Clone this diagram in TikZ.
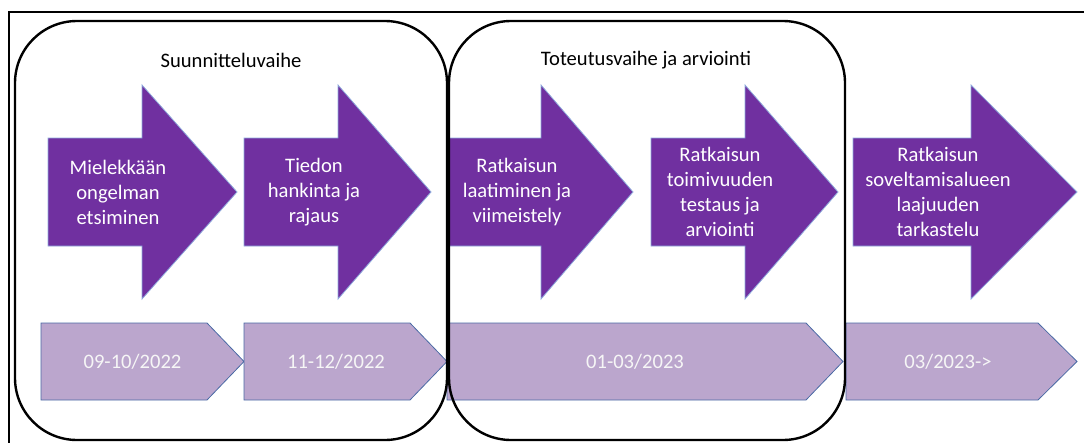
\documentclass[tikz,border=0pt]{standalone}
\usepackage{fontspec}
\setmainfont{Carlito}
\definecolor{arrowpurple}{RGB}{112,48,160}
\definecolor{datepurple}{RGB}{187,166,205}
\definecolor{arrowedge}{RGB}{143,170,220}
\definecolor{dateedge}{RGB}{74,106,165}
\definecolor{datewhite}{RGB}{246,246,246}
\tikzset{
  bigarrow/.style={fill=arrowpurple, draw=arrowedge, line width=0.8pt},
  datebox/.style={fill=datepurple, draw=dateedge, line width=0.8pt},
  phasebox/.style={draw=black, line width=2.4pt, rounded corners=62pt},
  steptext/.style={text=white, align=center, inner sep=0pt, font=\fontsize{20.6}{25}\selectfont},
  datetext/.style={text=datewhite, inner sep=0pt, font=\fontsize{20.6}{25}\selectfont},
  phasetitle/.style={text=black, inner sep=0pt, font=\fontsize{20.6}{25}\selectfont}
}
\begin{document}
\begin{tikzpicture}[x=1pt,y=-1pt]

    \clip (0,0) rectangle (1084,442);
    \draw[line width=1.5pt] (9,12) rectangle (1100,460);

    % step arrows
    \foreach \l/\h/\t in {48/142/237, 244/338/431, 448/541/633, 651/745/838, 853/971/1077}
    \draw[bigarrow] (\l,138) -- (\h,138) -- (\h,85) -- (\t,192) -- (\h,299) -- (\h,246) -- (\l,246) -- cycle;

    % time chevrons
    \foreach \l/\f/\t in {41/207/244, 244/410/447, 447/806/843, 846/1038/1077}
    \draw[datebox] (\l,323) -- (\f,323) -- (\t,361.5) -- (\f,400) -- (\l,400) -- cycle;

    \node[steptext] (etsinta) at (118,192) {Mielekkään\\ongelman\\etsiminen};
    \node[steptext] (hankinta) at (314,192) {Tiedon\\hankinta ja\\rajaus};
    \node[steptext] (laadinta) at (517,192) {Ratkaisun\\laatiminen ja\\viimeistely};
    \node[steptext] (testaus) at (720,192) {Ratkaisun\\toimivuuden\\testaus ja\\arviointi};
    \node[steptext] (tarkastelu) at (938,192) {Ratkaisun\\soveltamisalueen\\laajuuden\\tarkastelu};

    \node[datetext] (syksy) at (132.5,362) {09-10/2022};
    \node[datetext] (talvi) at (336,362) {11-12/2022};
    \node[datetext] (kevat) at (635,362) {01-03/2023};
    \node[datetext] (jatko) at (948,362) {03/2023->};

    % phases
    \draw[phasebox] (15,21) rectangle (447,440);
    \draw[phasebox] (449,21) rectangle (845,440);
    \node[phasetitle] (suunnittelu) at (231,60) {Suunnitteluvaihe};
    \node[phasetitle] (toteutus) at (646,60) {Toteutusvaihe ja arviointi};

\end{tikzpicture}
\end{document}
